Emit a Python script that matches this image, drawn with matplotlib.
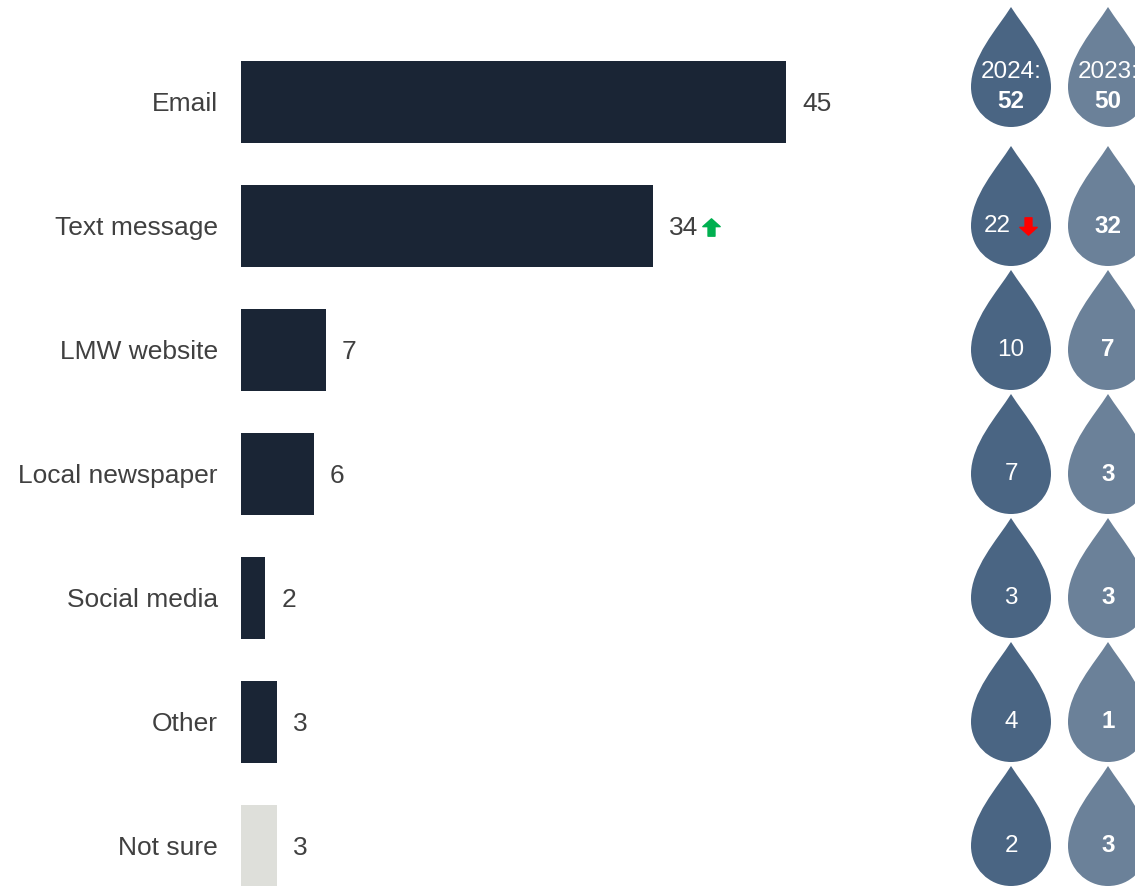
import matplotlib
matplotlib.use('Agg')
import matplotlib.pyplot as plt
import matplotlib.transforms as mtransforms
from matplotlib.path import Path
from matplotlib.patches import PathPatch

plt.rcParams['font.family'] = ['Liberation Sans', 'DejaVu Sans']

categories = ['Email', 'Text message', 'LMW website', 'Local newspaper',
              'Social media', 'Other', 'Not sure']
values = [45, 34, 7, 6, 2, 3, 3]
values_2024 = [52, 22, 10, 7, 3, 4, 2]
values_2023 = [50, 32, 7, 3, 3, 1, 3]
change = ['', 'up', '', '', '', '', '']
change_2024 = ['', 'down', '', '', '', '', '']

W, H = 1135, 886
BAR = '#1a2535'
NOT_SURE = '#dedfda'
TXT = '#404040'
DROP_24 = '#4a6583'
DROP_23 = '#6b8199'

fig = plt.figure(figsize=(W / 100, H / 100), dpi=100)

# bar panel, laid out in pixels: value 0 at x=241, 45 at x=786, rows every 124px from y=102
x0, x45 = 241, 786
row0, step = 102, 124
top_px = 40
ymin = -0.5
ymax = (H - row0) / step
ax = fig.add_axes([x0 / W, 0, (x45 - x0) / W, (H - top_px) / H])
ax.set_xlim(0, 45)
ax.set_ylim(ymax, ymin)
ax.axis('off')

ys = list(range(len(categories)))
colors = [BAR] * (len(categories) - 1) + [NOT_SURE]
ax.barh(ys, values, height=0.66, color=colors)

lab_tr = mtransforms.offset_copy(ax.transData, fig, x=-23, y=-2, units='dots')
val_tr = mtransforms.offset_copy(ax.transData, fig, x=16, y=-2, units='dots')
arr_tr = mtransforms.offset_copy(ax.transData, fig, x=58, y=-1, units='dots')

# block arrow marker
up_verts = [(-0.5, 0.05), (0, 0.5), (0.5, 0.05), (0.2, 0.05), (0.2, -0.5),
            (-0.2, -0.5), (-0.2, 0.05), (-0.5, 0.05)]
up_arrow = Path(up_verts, closed=True)
down_arrow = Path([(x, -y) for x, y in up_verts], closed=True)

for y, cat, v, ch in zip(ys, categories, values, change):
    ax.text(0, y, cat, transform=lab_tr, ha='right', va='center',
            fontsize=19, color=TXT)
    ax.text(v, y, str(v), transform=val_tr, ha='left', va='center',
            fontsize=19, color=TXT)
    if ch == 'up':
        ax.plot([v], [y], marker=up_arrow, markersize=12.5, color='#00b050',
                transform=arr_tr, clip_on=False, linestyle='none')

# droplets, drawn in a pixel-space overlay
ov = fig.add_axes([0, 0, 1, 1])
ov.set_xlim(0, W)
ov.set_ylim(H, 0)
ov.axis('off')


def droplet(cx, cy, r, color):
    k = 0.5523
    verts = [
        (cx, cy - 2 * r),
        (cx + 0.35 * r, cy - 1.45 * r), (cx + r, cy - 0.75 * r), (cx + r, cy),
        (cx + r, cy + k * r), (cx + k * r, cy + r), (cx, cy + r),
        (cx - k * r, cy + r), (cx - r, cy + k * r), (cx - r, cy),
        (cx - r, cy - 0.75 * r), (cx - 0.35 * r, cy - 1.45 * r), (cx, cy - 2 * r),
        (cx, cy - 2 * r),
    ]
    codes = [Path.MOVETO] + [Path.CURVE4] * 12 + [Path.CLOSEPOLY]
    ov.add_patch(PathPatch(Path(verts, codes), facecolor=color, edgecolor='none'))


r = 40
fs = 17.5
col_x = [1011, 1108]
for i, (a, b, ch) in enumerate(zip(values_2024, values_2023, change_2024)):
    cy = row0 + step * i - (15 if i == 0 else 0)
    droplet(col_x[0], cy, r, DROP_24)
    droplet(col_x[1], cy, r, DROP_23)
    if i == 0:
        ov.text(col_x[0], cy - 15, '2024:', ha='center', va='center',
                fontsize=fs, color='white')
        ov.text(col_x[0], cy + 14, str(a), ha='center', va='center',
                fontsize=fs, color='white', fontweight='bold')
        ov.text(col_x[1], cy - 15, '2023:', ha='center', va='center',
                fontsize=fs, color='white')
        ov.text(col_x[1], cy + 14, str(b), ha='center', va='center',
                fontsize=fs, color='white', fontweight='bold')
        continue
    if ch == 'down':
        ov.text(col_x[0] - 14, cy, str(a), ha='center', va='center',
                fontsize=fs, color='white')
        ov.plot([col_x[0] + 17], [cy], marker=down_arrow, markersize=12.5,
                color='#ff0000', linestyle='none')
    else:
        ov.text(col_x[0], cy, str(a), ha='center', va='center',
                fontsize=fs, color='white')
    ov.text(col_x[1], cy, str(b), ha='center', va='center',
            fontsize=fs, color='white', fontweight='bold')

fig.savefig('out.png', dpi=100, facecolor='white')
